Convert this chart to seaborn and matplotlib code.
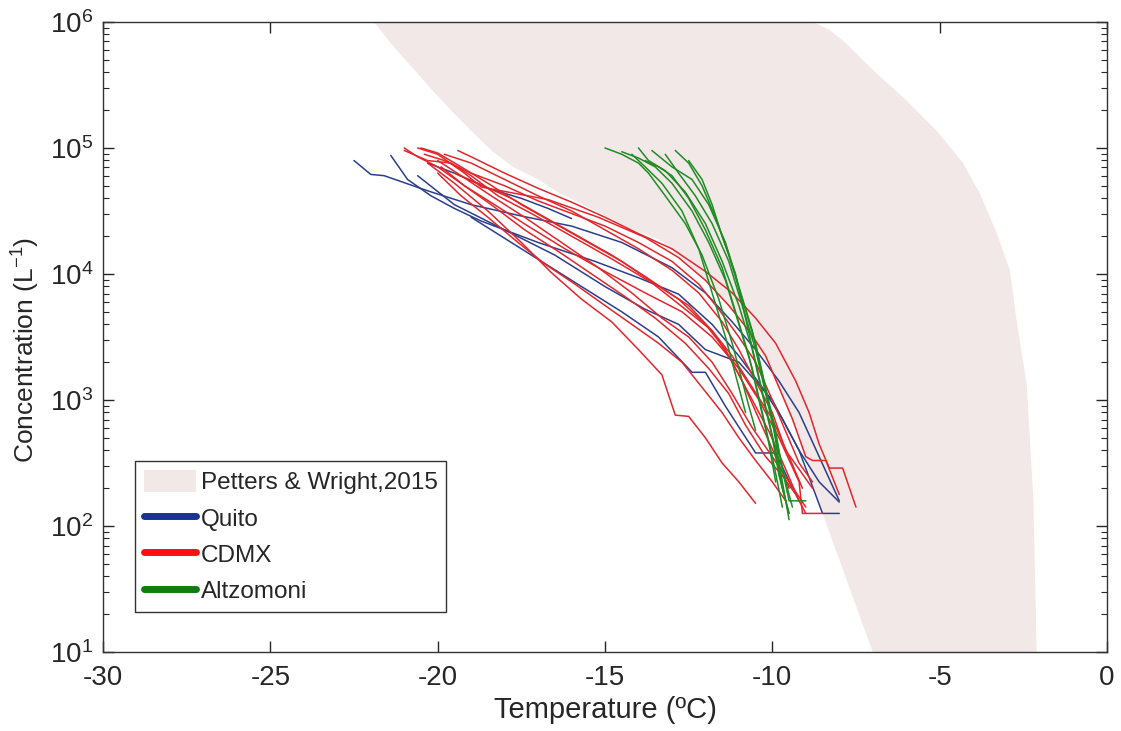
import numpy as np
import pandas as pd
import matplotlib
matplotlib.use("Agg")
import matplotlib.pyplot as plt
import seaborn as sns
from matplotlib.patches import Patch
from matplotlib.lines import Line2D
from matplotlib.ticker import LogLocator, LogFormatterMathtext, FixedLocator

# ---------------- data ----------------
# Petters & Wright (2015) envelope: temperature (degC) vs log10 concentration (L^-1)
pw_left_T = [-21.9, -21.4, -20.9, -20.2, -19.5, -18.9, -18.35, -17.75, -17.0, -16.35,
             -15.35, -14.35, -13.35, -12.15, -10.95, -10.05, -9.3, -8.5, -7.0]
pw_left_logC = [6.0, 5.83, 5.68, 5.47, 5.27, 5.11, 4.97, 4.85, 4.75, 4.64,
                4.51, 4.37, 4.27, 3.99, 3.63, 3.24, 2.76, 2.10, 1.0]
pw_right_T = [-8.8, -8.3, -7.8, -7.0, -6.0, -5.1, -4.3, -3.8, -3.3, -2.9,
              -2.7, -2.4, -2.2, -2.1]
pw_right_logC = [6.0, 5.94, 5.83, 5.62, 5.38, 5.14, 4.88, 4.64, 4.33, 4.03,
                 3.63, 3.13, 2.21, 1.0]

# Quito runs
quito_T = [
    [-22.5, -22.0, -21.6, -20.3, -19.0, -17.5, -16.0, -14.5, -13.0, -12.0, -11.2, -10.5, -9.8, -9.2, -8.6, -8.0],
    [-21.4, -20.9, -20.2, -19.5, -18.7, -17.0, -15.3, -14.0, -12.8, -11.8, -11.0, -10.3, -9.7, -9.2, -8.5, -8.0],
    [-20.3, -19.5, -18.5, -17.5, -16.7, -16.0],
    [-20.6, -19.5, -18.0, -16.5, -15.0, -13.8, -12.8, -12.0, -11.0, -10.0, -9.2, -8.6, -8.0],
    [-19.0, -17.5, -16.0, -14.5, -13.4, -12.4, -12.0, -11.4, -10.5, -9.9, -9.4],
]
quito_logC = [
    [4.90, 4.79, 4.78, 4.66, 4.55, 4.46, 4.38, 4.25, 4.05, 3.85, 3.62, 3.40, 3.15, 2.90, 2.55, 2.20],
    [4.94, 4.75, 4.62, 4.52, 4.42, 4.25, 4.10, 3.97, 3.84, 3.60, 3.35, 3.10, 2.85, 2.60, 2.10, 2.10],
    [4.88, 4.80, 4.68, 4.60, 4.52, 4.44],
    [4.78, 4.55, 4.35, 4.15, 3.90, 3.72, 3.60, 3.40, 3.30, 3.00, 2.60, 2.35, 2.19],
    [4.45, 4.20, 3.95, 3.70, 3.50, 3.22, 3.22, 2.95, 2.58, 2.58, 2.30],
]

# CDMX runs
cdmx_T = [
    [-19.4, -19.0, -18.0, -17.0, -16.0, -15.0, -14.0, -13.0, -12.0, -11.2, -10.5, -9.9, -9.3, -8.9, -8.6, -8.3, -7.9, -7.5],
    [-21.0, -20.6, -20.0, -19.2, -18.3, -17.3, -16.2, -15.0, -13.8, -12.7, -11.8, -11.0, -10.4, -9.8, -9.2, -9.1, -8.5],
    [-20.5, -20.0, -19.3, -18.5, -17.5, -16.5, -15.5, -14.5, -13.5, -12.5, -11.8, -11.2, -10.6, -10.1, -9.6, -9.2],
    [-20.3, -19.5, -18.5, -17.5, -16.6, -15.7, -14.8, -14.0, -13.3, -12.9, -12.5, -12.0, -11.5, -11.0, -10.5],
    [-20.0, -19.3, -18.4, -17.4, -16.3, -15.2, -14.2, -13.3, -12.5, -11.8, -11.2, -10.6, -10.0, -9.5, -9.0],
    [-19.8, -19.0, -18.0, -17.0, -16.0, -15.0, -14.0, -13.0, -12.2, -11.5, -11.0, -10.5, -10.0, -9.6, -9.2, -8.8],
    [-20.6, -20.0, -19.2, -18.7, -17.5, -16.7, -15.2, -13.8, -12.8, -12.0, -11.3, -10.7, -10.2, -9.8, -9.4, -9.0, -8.8, -8.4, -8.0],
    [-21.0, -20.3, -19.6, -19.0, -18.2, -17.2, -16.0, -14.8, -13.6, -12.6, -11.8, -11.2, -10.6, -10.0, -9.5, -9.1],
    [-19.5, -18.8, -17.8, -16.8, -15.8, -14.8, -13.8, -12.8, -12.0, -11.4, -10.9, -10.4, -9.9, -9.5],
    [-20.4, -19.8, -19.0, -18.0, -17.0, -16.0, -15.0, -14.0, -13.0, -12.2, -11.6, -11.0, -10.5, -10.0, -9.6, -9.2, -8.8],
    [-19.9, -19.2, -18.4, -17.4, -16.4, -15.4, -14.4, -13.5, -12.6, -11.9, -11.3, -10.8, -10.2, -9.7, -9.3, -9.0],
    [-20.0, -19.3, -18.5, -17.6, -16.8, -15.9, -15.0, -14.2, -13.4, -12.7, -12.1, -11.5, -11.0, -10.5, -10.0, -9.6],
]
cdmx_logC = [
    [4.98, 4.93, 4.80, 4.68, 4.57, 4.45, 4.32, 4.20, 4.02, 3.85, 3.65, 3.45, 3.15, 2.90, 2.65, 2.46, 2.46, 2.15],
    [5.00, 4.93, 4.85, 4.70, 4.55, 4.38, 4.20, 4.02, 3.85, 3.70, 3.50, 3.25, 3.00, 2.70, 2.35, 2.10, 2.10],
    [5.00, 4.96, 4.85, 4.72, 4.55, 4.40, 4.25, 4.10, 3.92, 3.75, 3.55, 3.30, 3.00, 2.75, 2.45, 2.20],
    [4.88, 4.72, 4.50, 4.25, 4.01, 3.80, 3.62, 3.40, 3.20, 2.88, 2.87, 2.70, 2.50, 2.35, 2.18],
    [4.90, 4.78, 4.62, 4.45, 4.25, 4.05, 3.85, 3.65, 3.50, 3.30, 3.05, 2.78, 2.55, 2.35, 2.15],
    [4.95, 4.88, 4.75, 4.62, 4.50, 4.35, 4.20, 4.03, 3.85, 3.62, 3.40, 3.15, 2.90, 2.60, 2.45, 2.30],
    [5.00, 4.95, 4.80, 4.69, 4.63, 4.59, 4.45, 4.29, 4.13, 3.95, 3.75, 3.55, 3.35, 3.10, 2.85, 2.55, 2.52, 2.52, 2.25],
    [4.98, 4.90, 4.88, 4.78, 4.62, 4.48, 4.30, 4.12, 3.93, 3.72, 3.55, 3.35, 3.10, 2.85, 2.55, 2.30],
    [4.80, 4.72, 4.60, 4.45, 4.30, 4.15, 3.98, 3.80, 3.60, 3.40, 3.15, 2.85, 2.55, 2.30],
    [4.95, 4.90, 4.80, 4.70, 4.58, 4.48, 4.38, 4.25, 4.10, 3.92, 3.72, 3.50, 3.30, 3.00, 2.75, 2.50, 2.35],
    [4.85, 4.70, 4.55, 4.35, 4.18, 4.00, 3.82, 3.65, 3.45, 3.25, 3.05, 2.80, 2.55, 2.40, 2.25, 2.10],
    [4.80, 4.62, 4.45, 4.25, 4.08, 3.92, 3.75, 3.60, 3.45, 3.30, 3.10, 2.90, 2.70, 2.52, 2.35, 2.20],
]

# Altzomoni runs
altz_T = [
    [-15.0, -14.5, -14.0, -13.7, -13.2, -12.6, -12.1, -11.6, -11.2, -10.9, -10.7, -10.5],
    [-14.5, -14.0, -13.5, -13.0, -12.4, -11.9, -11.4, -11.0, -10.6, -10.3, -10.0, -9.7],
    [-14.0, -13.7, -13.2, -12.6, -12.0, -11.5, -11.0, -10.6, -10.3, -10.0, -9.8, -9.5],
    [-13.6, -13.0, -12.4, -11.9, -11.4, -11.0, -10.6, -10.3, -10.0, -9.8, -9.6, -9.5],
    [-12.9, -12.5, -12.1, -11.7, -11.3, -10.9, -10.5, -10.2, -9.9, -9.7, -9.5, -9.2, -9.0],
    [-12.5, -12.1, -11.8, -11.5, -11.1, -10.8, -10.5, -10.2, -9.9, -9.7, -9.5],
    [-13.8, -13.4, -13.0, -12.5, -12.0, -11.5, -11.1, -10.7, -10.4, -10.1, -9.9],
    [-13.2, -12.8, -12.3, -11.8, -11.3, -10.9, -10.5, -10.2, -9.9, -9.6, -9.4],
    [-14.2, -13.8, -13.3, -12.7, -12.2, -11.8, -11.4, -11.1, -10.8],
]
altz_logC = [
    [5.00, 4.95, 4.88, 4.80, 4.62, 4.40, 4.15, 3.80, 3.45, 3.15, 2.95, 2.76],
    [4.97, 4.92, 4.85, 4.72, 4.50, 4.25, 3.95, 3.60, 3.25, 2.90, 2.55, 2.15],
    [5.00, 4.90, 4.82, 4.65, 4.40, 4.10, 3.75, 3.40, 3.05, 2.70, 2.40, 2.10],
    [4.98, 4.85, 4.75, 4.55, 4.25, 3.90, 3.55, 3.20, 2.85, 2.50, 2.20, 2.05],
    [4.98, 4.88, 4.70, 4.45, 4.15, 3.80, 3.45, 3.10, 2.75, 2.45, 2.20, 2.20, 2.20],
    [4.90, 4.75, 4.55, 4.30, 4.00, 3.65, 3.30, 2.95, 2.60, 2.30, 2.10],
    [4.90, 4.85, 4.78, 4.60, 4.35, 4.05, 3.70, 3.35, 3.00, 2.65, 2.35],
    [4.95, 4.80, 4.62, 4.40, 4.10, 3.75, 3.40, 3.05, 2.70, 2.35, 2.15],
    [4.95, 4.85, 4.72, 4.50, 4.20, 3.85, 3.50, 3.20, 2.90],
]

sites = ["Quito", "CDMX", "Altzomoni"]
line_colors = {"Quito": "#2c3f8c", "CDMX": "#e3262b", "Altzomoni": "#1f8c23"}
legend_colors = {"Quito": "#1a3290", "CDMX": "#ff1010", "Altzomoni": "#127a12"}
shade_color = "#f3e8e8"

# ---------------- build long-form table ----------------
rows = []
for site, Ts, Ls in [("Quito", quito_T, quito_logC), ("CDMX", cdmx_T, cdmx_logC),
                     ("Altzomoni", altz_T, altz_logC)]:
    for i, (tt, ll) in enumerate(zip(Ts, Ls)):
        for k, (t, l) in enumerate(zip(tt, ll)):
            rows.append({"site": site, "run": f"{site}_{i}", "order": k,
                         "T": t, "C": 10.0 ** l})
df = pd.DataFrame(rows)

# ---------------- plot ----------------
sns.set_theme(style="white")
plt.rcParams["font.family"] = ["Liberation Sans", "DejaVu Sans"]
plt.rcParams["mathtext.fontset"] = "custom"
plt.rcParams["mathtext.rm"] = "Liberation Sans"
plt.rcParams["mathtext.it"] = "Liberation Sans"

fig = plt.figure(figsize=(11.21, 7.31), dpi=100)
ax = fig.add_axes([0.0919, 0.108, 0.8956, 0.862])

poly_T = pw_left_T + pw_right_T[::-1]
poly_C = [10.0 ** v for v in (pw_left_logC + pw_right_logC[::-1])]
ax.fill(poly_T, poly_C, color=shade_color, lw=0, zorder=1)

sns.lineplot(data=df, x="T", y="C", hue="site", hue_order=sites, units="run",
             estimator=None, sort=False, palette=line_colors, lw=1.1,
             legend=False, ax=ax, zorder=3)

ax.set_yscale("log")
ax.set_xlim(-30, 0)
ax.set_ylim(10, 1e6)
ax.xaxis.set_major_locator(FixedLocator([-30, -25, -20, -15, -10, -5, 0]))
ax.set_xticklabels(["-30", "-25", "-20", "-15", "-10", "-5", "0"])
ax.yaxis.set_major_locator(LogLocator(base=10, numticks=10))
ax.yaxis.set_minor_locator(LogLocator(base=10, subs=np.arange(2, 10), numticks=20))
ax.yaxis.set_major_formatter(LogFormatterMathtext())

ax.tick_params(axis="both", which="both", direction="in", top=True, right=True,
               left=True, bottom=True, colors="#262626", labelcolor="#262626")
ax.tick_params(axis="both", which="major", length=8, width=1, labelsize=20)
ax.tick_params(axis="x", which="major", pad=9)
ax.tick_params(axis="y", which="major", pad=7)
ax.tick_params(axis="y", which="minor", length=4, width=0.8)
for s in ax.spines.values():
    s.set_color("#333333")
    s.set_linewidth(1.0)

ax.set_xlabel("Temperature (ºC)", fontsize=21, color="#262626", labelpad=4)
ax.set_ylabel("Concentration (L$^{\\mathregular{-1}}$)", fontsize=19, color="#262626")
ax.yaxis.set_label_coords(-0.061, 0.48)

handles = [Patch(facecolor=shade_color, edgecolor="none", label="Petters & Wright,2015")]
for s in sites:
    handles.append(Line2D([0], [0], color=legend_colors[s], lw=5, label=s))
leg = ax.legend(handles=handles, loc="lower left", bbox_to_anchor=(0.032, 0.064),
                borderaxespad=0, fontsize=17.5, frameon=True, fancybox=False,
                edgecolor="#333333", framealpha=1, handlelength=2.15,
                handleheight=1.0, handletextpad=0.2, labelspacing=0.5,
                borderpad=0.35)
leg.get_frame().set_linewidth(1.0)

fig.savefig("out.png", dpi=100)
